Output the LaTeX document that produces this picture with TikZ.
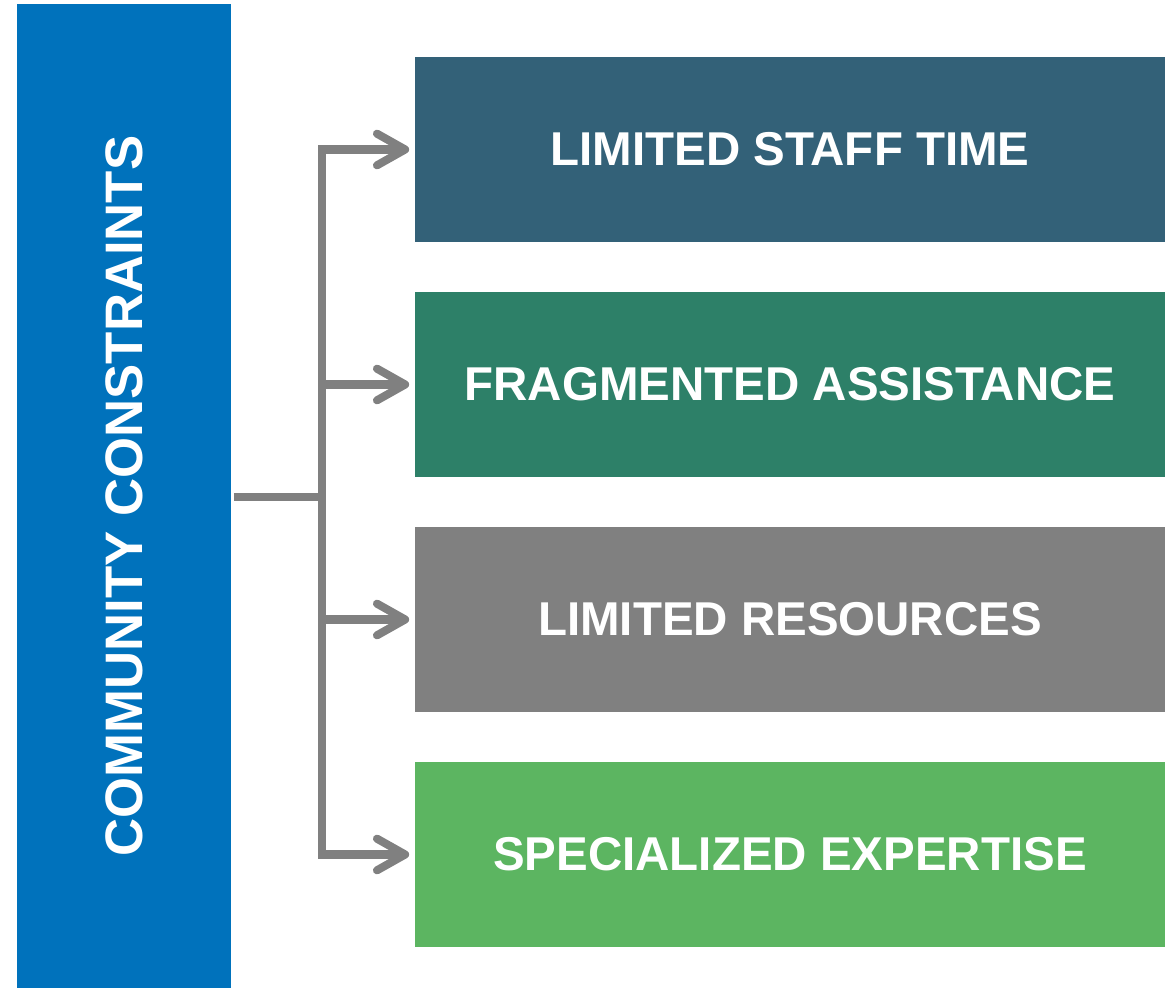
\documentclass[tikz,border=0pt]{standalone}
\usepackage{fontspec}
\setmainfont{Liberation Sans}
\usetikzlibrary{arrows.meta,positioning}
\definecolor{barblue}{RGB}{0,114,188}
\definecolor{staffblue}{RGB}{51,97,120}
\definecolor{fraggreen}{RGB}{45,128,104}
\definecolor{resgray}{RGB}{128,128,128}
\definecolor{expgreen}{RGB}{92,181,97}
\definecolor{linkgray}{RGB}{128,128,128}
\begin{document}
\begin{tikzpicture}[x=0.01cm,y=-0.01cm]
\tikzset{box/.style={fill=#1,text=white,minimum width=7.5cm,minimum height=1.85cm,inner sep=0pt,font=\fontsize{13.5}{16}\selectfont\bfseries},
  link/.style={draw=linkgray,line width=2.3pt},
  tip/.style={-{Straight Barb[length=8pt,width=9pt,round]},shorten >=1.4pt}}
\useasboundingbox (0,0) rectangle (1166,988);

\node[fill=barblue,minimum width=2.14cm,minimum height=9.84cm,inner sep=0pt,text=white,font=\fontsize{15}{18}\selectfont\bfseries] (cc) at (124,496) {\rotatebox{90}{COMMUNITY CONSTRAINTS}};

\node[box=staffblue] (staff) at (790,149.5) {LIMITED STAFF TIME};
\node[box=fraggreen] (frag) at (790,384.5) {FRAGMENTED ASSISTANCE};
\node[box=resgray] (res) at (790,619.5) {LIMITED RESOURCES};
\node[box=expgreen] (exp) at (790,854.5) {SPECIALIZED EXPERTISE};

\coordinate (split) at (322,497);
\draw[link] ([xshift=0.6pt]cc.east |- split) -- (split);
\foreach \b in {staff,frag,res,exp}
  \draw[link,tip] (split) |- (\b.west);

\end{tikzpicture}
\end{document}
